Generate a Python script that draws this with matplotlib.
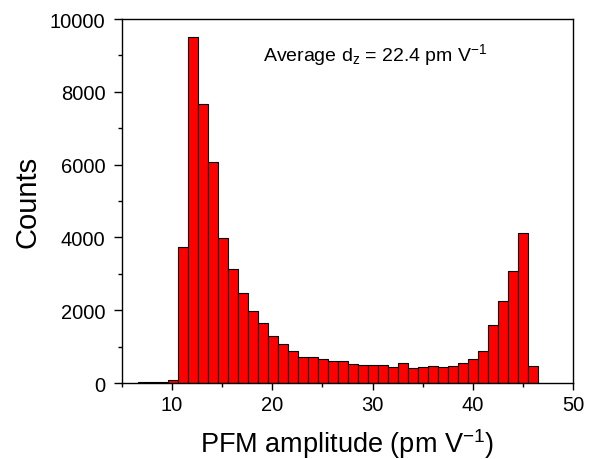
import matplotlib
matplotlib.use("Agg")
import matplotlib.pyplot as plt
from matplotlib.ticker import MultipleLocator

# histogram bins (left edges, width 1) and counts
bin_left = [6.55 + k for k in range(40)]
counts = [15, 20, 30, 70, 3745, 9514, 7673, 6071, 3983, 3132,
          2473, 1969, 1640, 1280, 1060, 879, 714, 714, 668, 613,
          595, 522, 503, 485, 494, 440, 558, 420, 450, 467,
          440, 467, 549, 668, 879, 1593, 2253, 3066, 4121, 456]
bin_width = 1.0

x_ticks = [10, 20, 30, 40, 50]
y_ticks = [0, 2000, 4000, 6000, 8000, 10000]

plt.rcParams['font.family'] = ['Liberation Sans', 'DejaVu Sans']
plt.rcParams['mathtext.fontset'] = 'custom'
plt.rcParams['mathtext.rm'] = 'Liberation Sans'
plt.rcParams['mathtext.it'] = 'Liberation Sans:italic'

fig = plt.figure(figsize=(5.96, 4.60), dpi=100)
ax = fig.add_axes([0.2047, 0.1652, 0.7567, 0.7913])

ax.bar(bin_left, counts, width=bin_width, align='edge',
       color='#ff0000', edgecolor='black', linewidth=0.8)

ax.set_xlim(5, 50)
ax.set_ylim(0, 10000)
ax.set_xticks(x_ticks)
ax.set_yticks(y_ticks)
ax.xaxis.set_minor_locator(MultipleLocator(5))
ax.yaxis.set_minor_locator(MultipleLocator(1000))
ax.tick_params(which='major', direction='out', length=5, width=1, labelsize=14.5)
ax.tick_params(which='minor', direction='out', length=3, width=1)
ax.tick_params(axis='y', which='major', length=6, pad=6)
for s in ax.spines.values():
    s.set_linewidth(1)

ax.set_xlabel("PFM amplitude (pm V$^{-1}$)", fontsize=19.5, labelpad=9)
ax.set_ylabel("Counts", fontsize=21, labelpad=6)

ax.text(19.1, 9040, "Average d$_\\mathregular{z}$ = 22.4 pm V$^\\mathregular{-1}$",
        fontsize=14, ha='left', va='center')

fig.savefig("out.png", dpi=100)
